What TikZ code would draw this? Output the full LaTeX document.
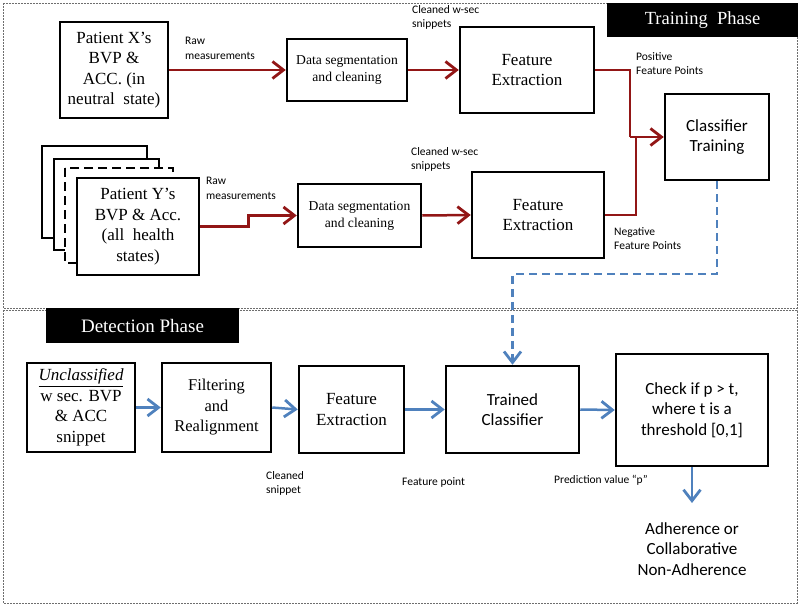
\documentclass[tikz,border=0pt]{standalone}
\usepackage{fontspec}
\setmainfont{Liberation Serif}
\newfontfamily\calib{Carlito}
\usetikzlibrary{arrows.meta,calc}
\definecolor{arrred}{RGB}{146,22,22}
\definecolor{arrblue}{RGB}{79,129,189}
\definecolor{framegray}{RGB}{110,110,110}
\tikzset{
  box/.style={draw=black, line width=2.5pt, fill=white, rectangle, align=center, inner sep=2pt},
  serifbig/.style={font=\fontsize{17}{20.5}\selectfont},
  serifmid/.style={font=\fontsize{16.5}{20.5}\selectfont},
  serifsmall/.style={font=\fontsize{13.6}{17}\selectfont},
  sansbig/.style={font=\calib\fontsize{17}{20.5}\selectfont},
  lbl/.style={anchor=north west, inner sep=0pt, align=left, font=\calib\fontsize{11.5}{14.5}\selectfont},
  tipstyle/.style={-{Straight Barb[length=11pt,width=17pt,line width=2.8pt]}},
  redarr/.style={draw=arrred, line width=2.5pt, tipstyle},
  redline/.style={draw=arrred, line width=2.5pt},
  bluearr/.style={draw=arrblue, line width=2.5pt, tipstyle},
  frame/.style={draw=framegray, line width=1pt, dash pattern=on 2pt off 1pt},
  phase/.style={fill=black, text=white, inner sep=0pt}
}
\begin{document}
\begin{tikzpicture}[x=1pt,y=-1pt]
\useasboundingbox (0,0) rectangle (800,605);
% frames
\draw[frame] (3,3) rectangle (797,308);
\draw[frame] (3,310) rectangle (797,603);
\node[phase, minimum width=191pt, minimum height=34pt, font=\fontsize{18.5}{20}\selectfont] (tp) at (702.5,20) {Training\ \ Phase};
\node[phase, minimum width=193pt, minimum height=35pt, font=\fontsize{19}{20}\selectfont] (dp) at (142.5,325.5) {Detection Phase};

% training nodes
\node[box, serifbig, minimum width=108pt, minimum height=96pt] (px) at (114,70) {Patient X’s\\BVP \&\\ACC. (in\\neutral\ \ state)};
\node[box, serifsmall, minimum width=120pt, minimum height=62pt] (ds1) at (347,70) {Data segmentation\\and cleaning};
\node[box, serifbig, minimum width=134pt, minimum height=86pt] (fe1) at (527,70) {Feature\\Extraction};
\node[box, sansbig, minimum width=104pt, minimum height=86pt] (ct) at (717,137) {Classifier\\Training};

\draw[line width=2.5pt, fill=white] (42,146) rectangle (147,238);
\draw[line width=2.5pt, fill=white] (54,159) rectangle (159,250);
\draw[line width=2.5pt, fill=white, dash pattern=on 9pt off 5pt] (65,168) rectangle (173,263);
\node[box, serifbig, minimum width=122pt, minimum height=97pt] (py) at (138,226.5) {Patient Y’s\\BVP \& Acc.\\(all\ \ health\\states)};
\node[box, serifsmall, minimum width=123pt, minimum height=63pt] (ds2) at (359.5,215.5) {Data segmentation\\and cleaning};
\node[box, serifbig, minimum width=132pt, minimum height=86pt] (fe2) at (538,215) {Feature\\Extraction};

% training connectors
\coordinate (j1) at (630,137);
\coordinate (j2) at (636,137);
\draw[redarr] (px.east) -- (ds1.west);
\draw[redarr] (ds1.east) -- (fe1.west);
\draw[redline] (fe1.east) -| (j1);
\draw[redline] (fe2.east) -| (j2);
\draw[redarr] (j1) -- (ct.west);
\draw[redarr] (py.east) -| ($(py.east)!.5!(ds2.west)$) |- (ds2.west);
\draw[redarr] (ds2.east) -- (fe2.west);

% training labels
\node[lbl] (l1) at (185,37) {Raw\\measurements};
\node[lbl] (l2) at (412,5) {Cleaned w-sec\\snippets};
\node[lbl] (l3) at (636,52) {Positive\\Feature Points};
\node[lbl] (l4) at (206,177) {Raw\\measurements};
\node[lbl] (l5) at (411,147) {Cleaned w-sec\\snippets};
\node[lbl] (l6) at (614,227) {Negative\\Feature Points};

% detection nodes
\node[box, serifbig, minimum width=108pt, minimum height=89pt] (unc) at (81,407.5) {\textit{\underline{Unclassified}}\\w sec. BVP\\\& ACC\\snippet};
\node[box, serifmid, minimum width=109pt, minimum height=89pt] (filt) at (216.5,407.5) {Filtering\\and\\Realignment};
\node[box, serifbig, minimum width=105pt, minimum height=87pt] (fe3) at (351.5,409.5) {Feature\\Extraction};
\node[box, sansbig, minimum width=133pt, minimum height=87pt] (tc) at (512.5,409.5) {Trained\\Classifier};
\node[box, sansbig, minimum width=152pt, minimum height=112pt] (chk) at (692,410) {Check if p > t,\\where t is a\\threshold [0,1]};
\node[sansbig, align=center, inner sep=0pt] (out) at (692,549) {Adherence or\\Collaborative\\Non-Adherence};
\coordinate (o) at (692,503);

% detection connectors
\coordinate (b1) at (0,274);
\draw[arrblue, line width=2.5pt, dash pattern=on 8pt off 5pt, tipstyle] (ct.south) -- (ct.south |- b1) -- (tc.north |- b1) -- (tc.north);
\draw[bluearr] (unc.east) -- (filt.west);
\draw[bluearr] (filt.east) -- (fe3.west);
\draw[bluearr] (fe3.east) -- (tc.west);
\draw[bluearr] (tc.east) -- (chk.west);
\draw[bluearr] (chk.south) -- (o);

% detection labels
\node[lbl] (l7) at (266,471) {Cleaned\\snippet};
\node[lbl] (l8) at (402,477) {Feature point};
\node[lbl] (l9) at (554,475) {Prediction value “p”};
\end{tikzpicture}
\end{document}
